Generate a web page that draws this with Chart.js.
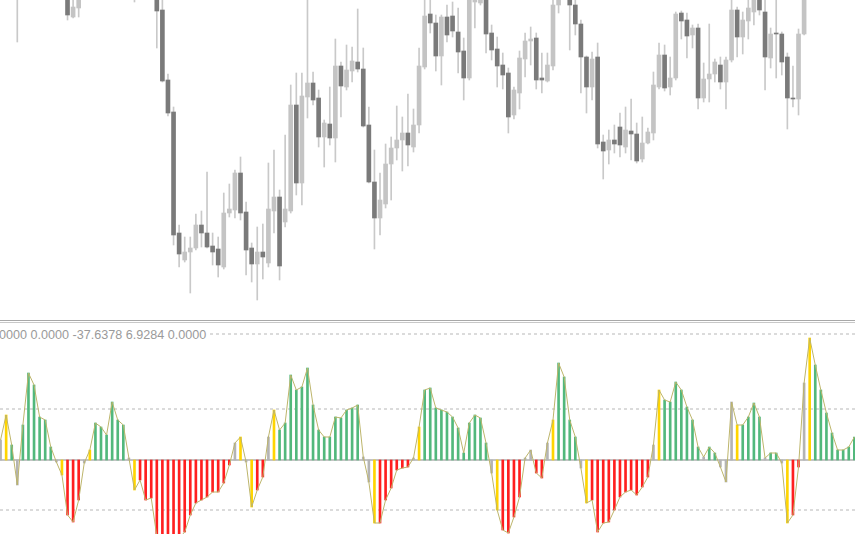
<!DOCTYPE html>
<html>
<head>
<meta charset="utf-8">
<script src="https://cdn.jsdelivr.net/npm/chart.js@4.4.1/dist/chart.umd.min.js"></script>
<style>
  html, body { margin: 0; padding: 0; background: #fff; }
  #wrap { position: relative; width: 855px; height: 534px; overflow: hidden; background: #fff; }
  #price { position: absolute; left: 0; top: 0; }
  #osc { position: absolute; left: 0; top: 324px; }
  .sep { position: absolute; left: 0; width: 855px; height: 1px; }
  #readout { position: absolute; left: -1px; top: 328px; font: 12.6px "Liberation Sans", Arial, sans-serif;
             color: #9a9a9a; background: #fff; padding-right: 2px; white-space: pre; }
</style>
</head>
<body>
<div id="wrap">
  <canvas id="price" width="855" height="320"></canvas>
  <div class="sep" style="top:320px;background:#a8a8a8"></div>
  <div class="sep" style="top:322px;background:#c8c8c8"></div>
  <canvas id="osc" width="855" height="210"></canvas>
  <div id="readout"></div>
</div>
<script>
// candles (price units, bar 0 = left edge)
const open = [350,358,352,330,340,352,362,370,364,372,
  380,370,330,303,312,325,335,345,355,350,
  358,365,355,345,335,330,340,348,330,310,
  240,208,87,60,68,72,95,87,74,71,
  53,107,110,147,108,72,56,68,57,109,
  123,98,109,215,137,223,237,222,183,196,
  182,254,233,249,258,251,195,138,102,116,
  156,172,180,187,173,195,253,306,297,264,
  303,304,288,269,242,318,317,325,287,271,
  255,247,205,227,261,279,282,242,239,254,
  315,330,330,315,296,263,233,263,178,170,
  180,193,173,189,186,161,177,187,233,265,
  233,242,307,300,285,292,222,241,246,255,
  238,260,310,283,299,308,325,308,262,287,
  286,263,222,221,286,330,345,360,352,358,
  350,356,362,368];
const high = [365,366,357,350,358,368,377,378,380,386,
  384,372,335,323,330,340,350,360,362,364,
  370,368,358,350,345,345,352,350,335,322,
  246,213,95,83,83,106,109,148,87,83,
  127,136,150,163,118,77,93,96,157,170,
  130,185,235,247,247,325,248,230,200,233,
  281,258,275,273,311,272,213,170,147,176,
  183,214,203,226,211,272,323,322,305,305,
  315,318,312,282,330,340,332,330,295,283,
  267,252,233,269,287,293,287,267,267,325,
  335,348,335,321,300,264,268,277,185,190,
  195,207,213,221,197,203,192,248,277,275,
  263,308,309,307,295,296,257,296,261,263,
  263,322,313,308,322,330,330,322,292,322,
  288,267,254,291,335,352,365,368,362,363,
  360,366,372,380];
const low = [345,347,340,278,333,346,356,358,360,366,
  362,325,300,302,303,321,330,340,345,346,
  352,350,340,330,318,325,334,330,272,238,
  204,75,53,58,27,70,73,72,55,43,
  51,103,102,100,45,38,20,41,53,87,
  40,93,107,125,115,202,215,173,153,175,
  158,203,230,238,248,193,137,71,85,112,
  120,160,149,154,168,187,251,287,249,235,
  278,283,247,220,240,292,315,267,260,233,
  231,187,201,211,243,255,231,227,238,250,
  307,323,270,285,227,207,220,172,141,156,
  167,163,167,160,157,158,176,180,231,229,
  225,240,281,262,272,211,218,218,238,231,
  211,258,263,266,281,295,305,230,252,242,
  245,191,213,205,285,326,340,345,347,344,
  342,350,356,362];
const close = [358,352,345,340,352,362,370,364,372,380,
  370,332,305,313,325,335,345,355,350,358,
  365,355,345,338,330,340,348,336,309,239,
  207,85,66,68,72,95,87,73,68,55,
  107,111,147,107,70,56,68,63,111,123,
  54,111,215,137,224,237,220,183,197,182,
  254,234,250,259,251,194,138,102,120,156,
  172,180,187,175,195,254,304,297,264,303,
  285,289,268,242,325,335,328,286,270,254,
  245,203,230,262,279,281,240,240,255,315,
  330,340,315,296,263,233,261,176,169,180,
  176,175,190,186,159,177,188,235,265,232,
  242,306,299,284,292,222,241,246,258,238,
  260,310,283,300,312,325,310,263,286,286,
  258,222,221,286,330,345,360,352,358,350,
  356,362,368,375];

// oscillator histogram + state per bar (g up, r down, y turn, n neutral)
const oscValues = [20,45,15,-25,35,87,75,43,40,13,
  -2,-15,-55,-62,-40,-3,10,37,33,25,
  58,40,35,2,-30,-20,-40,-38,-76,-82,
  -85,-80,-78,-72,-55,-43,-40,-37,-32,-32,
  -23,-5,17,23,-2,-47,-30,-17,23,50,
  30,37,85,70,73,92,55,30,23,23,
  43,42,50,52,55,3,-22,-63,-63,-40,
  -28,-10,-8,-7,2,33,70,72,52,50,
  48,43,32,7,37,45,42,17,-13,-50,
  -70,-73,-57,-37,2,10,-13,-18,17,40,
  97,83,40,23,-8,-43,-40,-72,-63,-62,
  -50,-37,-32,-30,-35,-27,-17,15,70,60,
  58,78,70,53,40,13,3,13,7,-7,
  -22,58,35,35,43,57,43,2,7,7,
  -3,-63,-55,-7,77,122,95,70,47,27,
  10,10,13,23];
const oscState = ('nygngggggg' + 'nyrrrnyggg' + 'gggnyrrrrr' + 'rrrrrrrrrr' +
  'rrnynyrrny' + 'gggggggggg' + 'gggggnnyrr' + 'rrrrnygggg' +
  'ggggggggny' + 'rrrrnnrrny' + 'ggggnyrrrr' + 'rrrrrrrnyg' +
  'ggggggnggn' + 'nnyggggngg' + 'nyrrnygggg' + 'gggg').split('');
const levelValues = [126, 51, -50];
const readout = ['0000', '0.0000', '-37.6378', '6.9284', '0.0000'];

const stateColor = { g: '#52b87c', r: '#ff1f1f', y: '#ffd500', n: '#b4b4b4' };
const xMin = -0.1, xMax = 153.12;
const idx = open.map((_, i) => i);

document.getElementById('readout').textContent = readout.join(' ');

const baseOptions = (yMin, yMax) => ({
    responsive: false,
    animation: false,
    events: [],
    layout: { padding: 0 },
    plugins: { legend: { display: false }, tooltip: { enabled: false } },
    datasets: { bar: { grouped: false } },
    scales: {
        x: { type: 'linear', display: false, offset: false, min: xMin, max: xMax },
        y: { display: false, min: yMin, max: yMax }
    }
});

new Chart(document.getElementById('price'), {
    type: 'bar',
    data: {
        datasets: [
            {
                data: idx.map(i => ({ x: i, y: [low[i], high[i]] })),
                backgroundColor: '#c9c9c9',
                barThickness: 1,
                order: 2
            },
            {
                data: idx.map(i => ({ x: i, y: [open[i], close[i]] })),
                backgroundColor: idx.map(i => close[i] >= open[i] ? '#c4c4c4' : '#7a7a7a'),
                barThickness: 4,
                order: 1
            }
        ]
    },
    options: baseOptions(0, 320)
});

const levelSets = levelValues.map(v => ({
    type: 'line',
    data: [{ x: xMin, y: v }, { x: xMax, y: v }],
    borderColor: '#b8b8b8',
    borderWidth: 1,
    borderDash: [3, 3],
    pointRadius: 0,
    order: 4
}));

new Chart(document.getElementById('osc'), {
    type: 'bar',
    data: {
        datasets: [
            ...levelSets,
            {
                type: 'line',
                data: [{ x: xMin, y: 0 }, { x: xMax, y: 0 }],
                borderColor: '#c4c4c4',
                borderWidth: 2,
                pointRadius: 0,
                order: 3
            },
            {
                data: idx.map(i => ({ x: i, y: oscValues[i] })),
                backgroundColor: oscState.map(s => stateColor[s]),
                barThickness: 2,
                order: 2
            },
            {
                type: 'line',
                data: idx.map(i => ({ x: i, y: oscValues[i] })),
                borderColor: '#bdb56b',
                borderWidth: 1,
                pointRadius: 0,
                tension: 0,
                order: 1
            }
        ]
    },
    options: baseOptions(-74, 136)
});
</script>
</body>
</html>
